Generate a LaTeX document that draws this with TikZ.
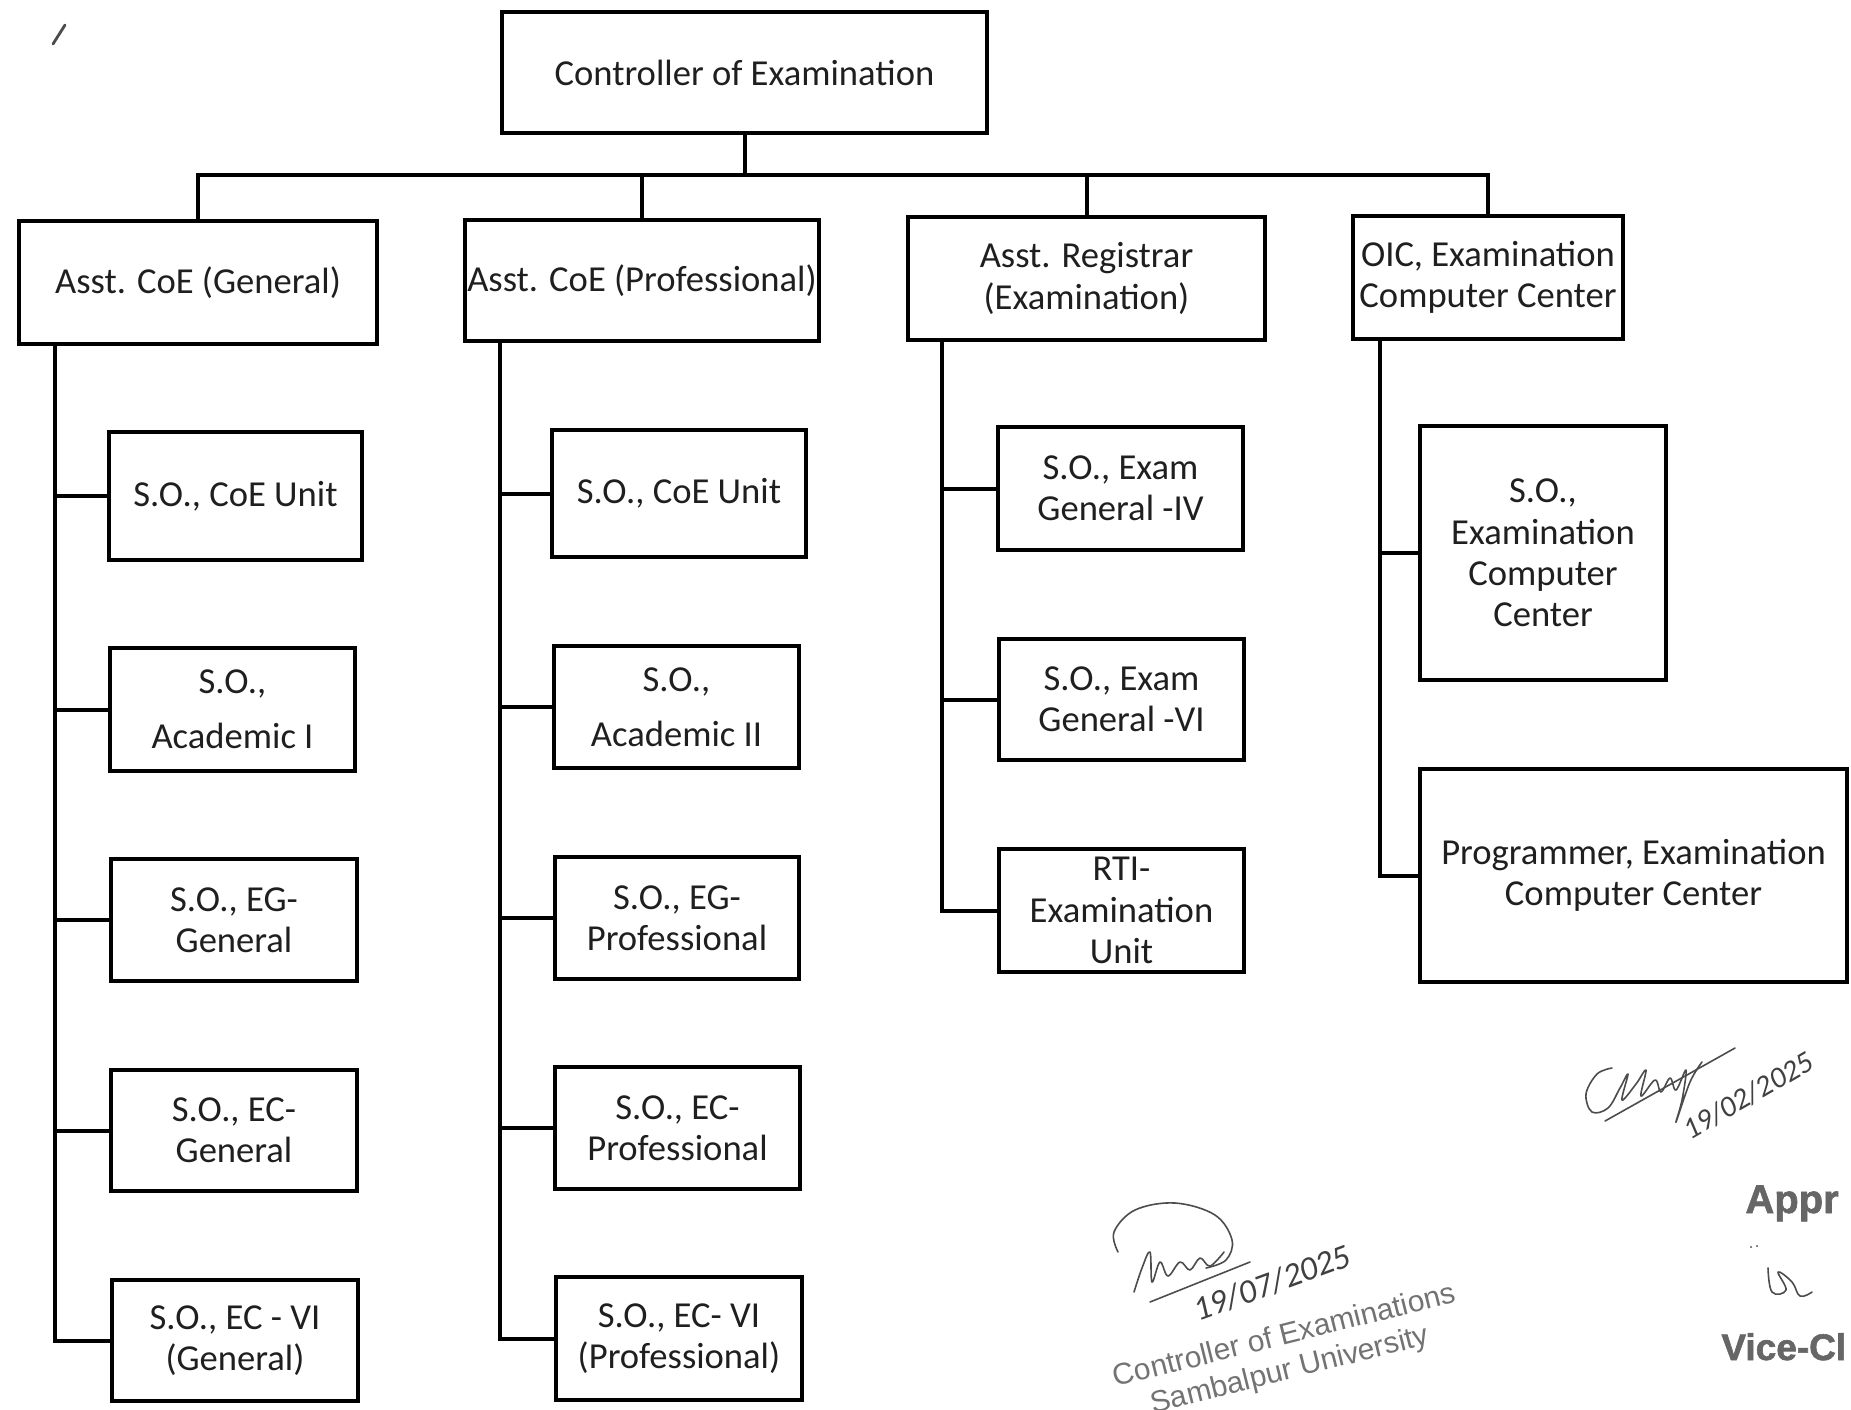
\documentclass[tikz,border=0pt]{standalone}
\usepackage{fontspec}
\setmainfont{Carlito}
\newfontfamily\stampfont{Liberation Sans}
\newfontfamily\heavyfont{Liberation Sans}[BoldFeatures={FakeBold=1.6}]
\begin{document}
\begin{tikzpicture}[x=0.5pt,y=-0.5pt,
  box/.style={draw=black, line width=2pt, inner sep=0pt, align=center,
    font=\fontsize{18.3}{20.7}\selectfont, text=black!88},
  conn/.style={draw=black, line width=2pt, line join=miter},
  ink/.style={draw=black!70, line width=0.8pt, line cap=round, line join=round},
  stamp/.style={inner sep=0pt, text=black!55, font=\stampfont\fontsize{15}{17}\selectfont, align=center},
  approv/.style={inner sep=0pt, anchor=base west, text=black!60, font=\heavyfont\bfseries\fontsize{20}{24}\selectfont},
  hand/.style={inner sep=0pt, text=black!75, font=\itshape\fontsize{15}{17}\selectfont},
]
\useasboundingbox (0,0) rectangle (1851,1409);

% top level
\node[box, minimum width=242.5pt, minimum height=60.5pt] (main) at (744.5,72.5) {Controller of Examination};

% second level
\node[box, minimum width=179pt, minimum height=61.5pt] (A) at (198,282.5) {Asst. CoE (General)};
\node[box, minimum width=177pt, minimum height=60.5pt] (B) at (642,280.5) {Asst. CoE (Professional)};
\node[box, minimum width=178.5pt, minimum height=61.5pt] (C) at (1086.5,278.5) {Asst. Registrar\\(Examination)};
\node[box, minimum width=135pt, minimum height=61.5pt] (D) at (1488,277.5) {OIC, Examination\\Computer Center};

% column 1
\node[box, minimum width=126.5pt, minimum height=64pt] (a1) at (235.5,496) {S.O., CoE Unit};
\node[box, minimum width=122.5pt, minimum height=61.5pt] (a2) at (232.5,709.5) {S.O.,\\[7pt]Academic I};
\node[box, minimum width=123pt, minimum height=61pt] (a3) at (234,920) {S.O., EG-\\General};
\node[box, minimum width=123pt, minimum height=60.5pt] (a4) at (234,1130.5) {S.O., EC-\\General};
\node[box, minimum width=123pt, minimum height=60.5pt] (a5) at (235,1340.5) {S.O., EC - VI\\(General)};

% column 2
\node[box, minimum width=127pt, minimum height=63.5pt] (b1) at (679,493.5) {S.O., CoE Unit};
\node[box, minimum width=122.5pt, minimum height=61pt] (b2) at (676.5,707) {S.O.,\\[7pt]Academic II};
\node[box, minimum width=122pt, minimum height=61pt] (b3) at (677,918) {S.O., EG-\\Professional};
\node[box, minimum width=122.5pt, minimum height=61pt] (b4) at (677.5,1128) {S.O., EC-\\Professional};
\node[box, minimum width=123pt, minimum height=61.5pt] (b5) at (679,1338.5) {S.O., EC- VI\\(Professional)};

% column 3
\node[box, minimum width=122.5pt, minimum height=61.5pt] (c1) at (1120.5,488.5) {S.O., Exam\\General -IV};
\node[box, minimum width=122.5pt, minimum height=60.5pt] (c2) at (1121.5,699.5) {S.O., Exam\\General -VI};
\node[box, minimum width=122.5pt, minimum height=61.5pt] (c3) at (1121.5,910.5) {RTI-\\Examination\\Unit};

% column 4
\node[box, minimum width=123pt, minimum height=127pt] (d1) at (1543,553) {S.O.,\\Examination\\Computer\\Center};
\node[box, minimum width=213.5pt, minimum height=106.5pt] (d2) at (1633.5,875.5) {Programmer, Examination\\Computer Center};

% top connectors
\coordinate (bus) at (744.5,175);
\draw[conn] (main.south) -- (bus);
\draw[conn] (A.north) -- (A.north |- bus) -- (D.north |- bus) -- (D.north);
\draw[conn] (B.north) -- (B.north |- bus);
\draw[conn] (C.north) -- (C.north |- bus);

% spines
\path (A.south west) ++(38,0) coordinate (s1);
\path (B.south west) ++(37,0) coordinate (s2);
\path (C.south west) ++(36,0) coordinate (s3);
\path (D.south west) ++(29,0) coordinate (s4);

\draw[conn] (s1) |- (a5.west);
\foreach \n in {a1,a2,a3,a4} \draw[conn] (s1 |- \n.west) -- (\n.west);
\draw[conn] (s2) |- (b5.west);
\foreach \n in {b1,b2,b3,b4} \draw[conn] (s2 |- \n.west) -- (\n.west);
\draw[conn] (s3) |- (c3.west);
\foreach \n in {c1,c2} \draw[conn] (s3 |- \n.west) -- (\n.west);
\draw[conn] (s4) |- (d2.west);
\draw[conn] (s4 |- d1.west) -- (d1.west);

% small mark top-left
\draw[ink, line width=1.4pt] (53,44) -- (65,25);

% signature 1 (top right)
\draw[ink] plot[smooth, tension=0.6] coordinates {(1612,1068) (1597,1074) (1586,1094) (1592,1112) (1608,1108) (1620,1088) (1628,1074) (1622,1100) (1636,1084) (1646,1070) (1641,1096) (1655,1080) (1661,1092) (1670,1078) (1676,1090) (1686,1070) (1682,1100) (1676,1122) (1690,1082) (1702,1062)};
\draw[ink] (1605,1121) -- (1735,1048);
\node[hand, rotate=30] (date1) at (1748,1096) {19/02/2025};

% signature 2 (bottom)
\draw[ink] plot[smooth, tension=0.6] coordinates {(1118,1252) (1114,1232) (1135,1210) (1175,1203) (1215,1215) (1232,1240) (1226,1260) (1206,1268)};
\draw[ink] plot[smooth, tension=0.6] coordinates {(1134,1292) (1142,1268) (1150,1252) (1152,1282) (1160,1262) (1168,1276) (1180,1262) (1190,1270) (1200,1258) (1210,1266) (1224,1252)};
\draw[ink] (1150,1302) -- (1250,1262);
\node[hand, rotate=20, font=\itshape\fontsize{17}{19}\selectfont] (date2) at (1272,1283) {19/07/2025};

% stamp
\node[stamp, rotate=14] (stamp1) at (1284,1334) {Controller of Examinations};
\node[stamp, rotate=14] (stamp2) at (1290,1371) {Sambalpur University};

% approval text (cut at right edge)
\node[approv] (appr) at (1745,1213) {Appr};
\draw[ink] plot[smooth, tension=0.7] coordinates {(1768,1268) (1772,1292) (1786,1290) (1778,1272) (1792,1282) (1800,1296) (1812,1292)};
\fill[black!60] (1751,1247) circle (1.2) (1757,1246) circle (1.2);
\node[approv, font=\heavyfont\bfseries\fontsize{18.5}{22}\selectfont] (vc) at (1721,1360) {Vice-Cl};
\end{tikzpicture}
\end{document}
